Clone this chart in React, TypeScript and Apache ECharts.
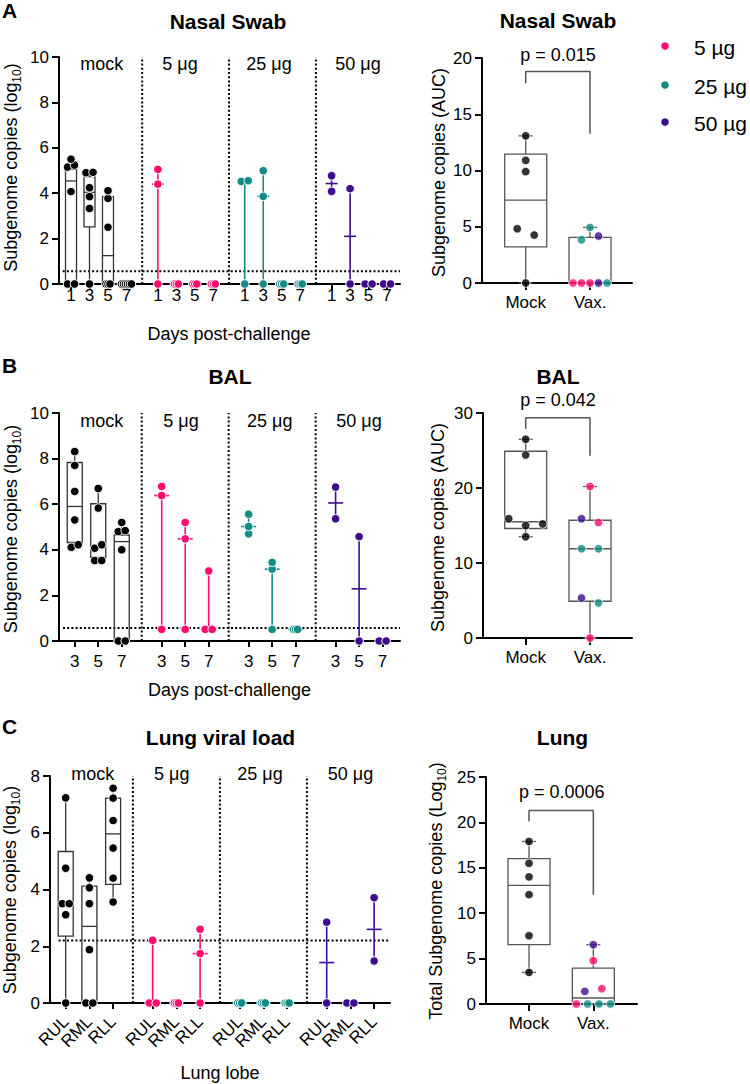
import React, { useEffect, useRef } from "react";
import * as echarts from "echarts";

// ---------------- data ----------------
const groupLabels = ["mock", "5 μg", "25 μg", "50 μg"];
const legendLabels = ["5 µg", "25 µg", "50 µg"];

// Nasal swab (log10) per group -> per day -> animals
const nasalDays = ["1", "3", "5", "7"];
const nasalMock = [[0, 0, 4.07, 5.15, 5.24, 5.5], [0, 3.33, 3.85, 4.24, 4.9, 4.92], [0, 0, 0, 2.5, 3.77, 4.11], [0, 0, 0, 0, 0, 0]];
const nasal5 = [[0, 4.4, 5.05], [0, 0, 0], [0, 0, 0], [0, 0, 0]];
const nasal25 = [[0, 4.52, 4.55], [0, 3.86, 4.99], [0, 0, 0], [0, 0, 0]];
const nasal50 = [[4.08, 4.77], [0, 4.2], [0, 0], [0, 0]];
// [min, q1, median, q3, max]
const nasalMockBox = [[0, 0, 4.54, 5.05, 5.5], [0, 2.52, 4.04, 4.73, 4.92], [0, 0, 1.25, 3.85, 4.11], [0, 0, 0, 0, 0]];
const nasalLod = 0.56;

// BAL (log10)
const balDays = ["3", "5", "7"];
const balMock = [[4.11, 4.22, 5.31, 6.56, 7.7, 8.31], [3.53, 3.53, 4.07, 4.22, 5.83, 6.69], [0, 0, 4.0, 4.8, 4.84, 5.2]];
const bal5 = [[0.51, 6.38, 6.78], [0.51, 4.48, 5.2], [0.51, 0.51, 3.07]];
const bal25 = [[4.7, 5.02, 5.56], [0.51, 3.15, 3.45], [0.51, 0.51, 0.51]];
const bal50 = [[5.36, 6.75], [0, 4.58], [0, 0]];
const balMockBox = [[4.11, 4.32, 5.9, 7.83, 8.31], [3.53, 3.67, 4.15, 6.02, 6.69], [0, 0, 4.36, 4.65, 5.2]];
const balLod = 0.57;

// Lung (log10)
const lungLobes = ["RUL", "RML", "RLL"];
const lungMock = [[0, 3.11, 3.5, 3.5, 4.75, 7.23], [0, 0, 1.88, 3.5, 4.06, 4.41], [3.56, 4.4, 5.46, 6.43, 7.22, 7.57]];
const lung5 = [[0, 0, 2.21], [0, 0, 0], [0, 1.74, 2.6]];
const lung25 = [[0, 0, 0], [0, 0, 0], [0, 0, 0]];
const lung50 = [[0, 2.85], [0, 0], [1.48, 3.71]];
const lungMockBox = [[0, 2.36, 3.5, 5.34, 7.23], [0, 0, 2.7, 4.12, 4.41], [3.56, 4.18, 5.96, 7.22, 7.57]];
const lungLod = 2.2;

// AUC panels (dose index: 1 = 5 µg, 2 = 25 µg, 3 = 50 µg)
const aucCategories = ["Mock", "Vax."];
const nasalAucMock = [13.08, 10.9, 9.9, 4.82, 4.26, 0];
const nasalAucVax = [0, 0, 0, 0, 0, 3.84, 4.17, 4.94];
const nasalAucVaxDose = [1, 1, 1, 3, 2, 2, 3, 2];
const nasalAucMockBox = [0, 3.22, 7.37, 11.45, 13.08];
const nasalAucVaxBox = [0, 0, 0, 4.05, 4.94];
const nasalBracket = [17.76, 18.8, 13.26];
const nasalP = "p = 0.015";

const balAucMock = [26.5, 24.4, 15.9, 15.0, 15.2, 13.5];
const balAucVax = [20.2, 15.9, 15.4, 11.9, 11.9, 5.33, 4.67, 0];
const balAucVaxDose = [1, 3, 1, 2, 2, 3, 2, 1];
const balAucMockBox = [13.5, 14.6, 15.5, 24.9, 26.5];
const balAucVaxBox = [0, 4.9, 11.9, 15.7, 20.2];
const balBracket = [27.87, 29.37, 24.3];
const balP = "p = 0.042";

const lungAucMock = [17.9, 15.5, 14.0, 12.04, 7.52, 3.48];
const lungAucVax = [6.53, 4.77, 1.39, 1.68, 0, 0, 0, 0];
const lungAucVaxDose = [3, 1, 3, 1, 1, 2, 2, 2];
const lungAucMockBox = [3.48, 6.53, 13.06, 16.0, 17.9];
const lungAucVaxBox = [0, 0, 0.66, 3.96, 6.53];
const lungBracket = [20.11, 21.32, 12.04];
const lungP = "p = 0.0006";

// ---------------- styles ----------------
const FONT = "'Liberation Sans', Arial, Helvetica, sans-serif";
const COLORS = ["#000000", "#FF0D6E", "#128C85", "#3D0C8E"];
const BOXCOL = "#333333";
const AUCBOX = "#555555";

type Grid = { left: number; top: number; width: number; height: number };
const gA: Grid = { left: 59, top: 57, width: 341, height: 227 };
const gAr: Grid = { left: 482, top: 58, width: 150, height: 225 };
const gB: Grid = { left: 59, top: 413, width: 341, height: 228 };
const gBr: Grid = { left: 483, top: 413, width: 149, height: 225 };
const gC: Grid = { left: 50, top: 776, width: 340, height: 227 };
const gCr: Grid = { left: 486, top: 777, width: 151, height: 227 };

function median(a: number[]) {
  const s = [...a].sort((x, y) => x - y);
  const m = s.length / 2;
  return s.length % 2 ? s[Math.floor(m)] : (s[m - 1] + s[m]) / 2;
}

function swarm(vals: number[], pxY: number, thr: number, spacing: (n: number) => number) {
  const n = vals.length;
  const off = new Array(n).fill(0);
  if (!n) return off;
  const idx = vals.map((_, i) => i).sort((a, b) => vals[a] - vals[b] || a - b);
  const clusters: number[][] = [];
  let cur = [idx[0]];
  for (let k = 1; k < n; k++) {
    if ((vals[idx[k]] - vals[idx[k - 1]]) * pxY < thr) cur.push(idx[k]);
    else { clusters.push(cur); cur = [idx[k]]; }
  }
  clusters.push(cur);
  for (const c of clusters) {
    c.sort((a, b) => a - b);
    const sp = spacing(c.length);
    c.forEach((id, j) => { off[id] = (j - (c.length - 1) / 2) * sp; });
  }
  return off;
}

function boxRenderer(halfW: number, capHalf: number, color: string, lw: number) {
  return (_p: any, api: any) => {
    const x = api.value(0);
    const [cx, yMin] = api.coord([x, api.value(1)]);
    const yQ1 = api.coord([x, api.value(2)])[1];
    const yMed = api.coord([x, api.value(3)])[1];
    const yQ3 = api.coord([x, api.value(4)])[1];
    const yMax = api.coord([x, api.value(5)])[1];
    const st = { stroke: color, lineWidth: lw, fill: "none" };
    const ln = (x1: number, y1: number, x2: number, y2: number) => ({ type: "line", shape: { x1, y1, x2, y2 }, style: st });
    const ch: any[] = [
      { type: "rect", shape: { x: cx - halfW, y: yQ3, width: 2 * halfW, height: Math.max(0, yQ1 - yQ3) }, style: st },
      ln(cx - halfW, yMed, cx + halfW, yMed),
    ];
    if (yMax < yQ3 - 0.5) {
      ch.push(ln(cx, yQ3, cx, yMax));
      if (capHalf > 0) ch.push(ln(cx - capHalf, yMax, cx + capHalf, yMax));
    }
    if (yMin > yQ1 + 0.5) {
      ch.push(ln(cx, yQ1, cx, yMin));
      if (capHalf > 0) ch.push(ln(cx - capHalf, yMin, cx + capHalf, yMin));
    }
    return { type: "group", children: ch };
  };
}

function rangeRenderer(halfW: number, color: string, lw: number) {
  return (_p: any, api: any) => {
    const x = api.value(0);
    const [cx, yMin] = api.coord([x, api.value(1)]);
    const yMed = api.coord([x, api.value(2)])[1];
    const yMax = api.coord([x, api.value(3)])[1];
    const st = { stroke: color, lineWidth: lw };
    return {
      type: "group",
      children: [
        { type: "line", shape: { x1: cx, y1: yMin, x2: cx, y2: yMax }, style: st },
        { type: "line", shape: { x1: cx - halfW, y1: yMed, x2: cx + halfW, y2: yMed }, style: st },
      ],
    };
  };
}

function dotted(gi: number, data: number[][]) {
  return {
    type: "line", xAxisIndex: gi, yAxisIndex: gi, data, symbol: "none", silent: true, z: 1, clip: false,
    lineStyle: { color: "#000", width: 2, type: [2, 2.2] },
  };
}

function yAxisCfg(gi: number, ymax: number, yint: number) {
  return {
    type: "value", gridIndex: gi, position: "left", min: 0, max: ymax, interval: yint,
    axisLine: { show: true, onZero: false, lineStyle: { color: "#000", width: 2 } },
    axisTick: { show: true, length: 7, lineStyle: { color: "#000", width: 2 } },
    axisLabel: { fontSize: 17, color: "#000", fontFamily: FONT, margin: 10, showMinLabel: true, showMaxLabel: true, hideOverlap: false },
    splitLine: { show: false },
  };
}

type LeftCfg = {
  gi: number; grid: Grid; groups: number[][][]; mockBox: number[][]; labels: string[];
  G: number; min: number; max: number; ymax: number; yint: number; lod: number; lodFrom: number;
  labelMargin: number; rotate: number; boxHalf: number; medHalf: number;
};

function leftPanel(c: LeftCfg) {
  const n = c.labels.length;
  const pos = (g: number, i: number) => g * c.G + i;
  const pxX = c.grid.width / (c.max - c.min);
  const pxY = c.grid.height / c.ymax;
  const tickPos: number[] = [];
  for (let g = 0; g < 4; g++) for (let i = 0; i < n; i++) tickPos.push(pos(g, i));
  const labelAxis = (i: number, main: boolean) => {
    const vals = [0, 1, 2, 3].map((g) => pos(g, i));
    return {
      type: "value", gridIndex: c.gi, position: "bottom", offset: 0, min: c.min, max: c.max,
      axisLine: { show: main, onZero: false, lineStyle: { color: "#000", width: 2 } },
      splitLine: { show: false },
      axisTick: { show: main, customValues: tickPos, length: 6, lineStyle: { color: "#000", width: 2 } },
      axisLabel: {
        show: true, customValues: vals, formatter: () => c.labels[i],
        fontSize: 17, color: "#000", fontFamily: FONT, margin: c.labelMargin, rotate: c.rotate,
        showMinLabel: true, showMaxLabel: true, hideOverlap: false,
      },
    };
  };
  // one axis per label row so that neighbouring (rotated) labels are never dropped
  const xAxis = labelAxis(0, true);
  const extraX = c.labels.slice(1).map((_, k) => labelAxis(k + 1, false));
  const yAxis = yAxisCfg(c.gi, c.ymax, c.yint);
  const series: any[] = [];
  for (let g = 0; g < 3; g++) {
    const s = pos(g, n - 1) + (c.G - (n - 1)) / 2;
    series.push(dotted(c.gi, [[s, 0], [s, c.ymax]]));
  }
  series.push(dotted(c.gi, [[c.lodFrom, c.lod], [c.max, c.lod]]));
  series.push({
    type: "custom", xAxisIndex: c.gi, yAxisIndex: c.gi, z: 2, clip: false, silent: true,
    renderItem: boxRenderer(c.boxHalf, 4, BOXCOL, 1.3),
    encode: { x: 0, y: 1 },
    data: c.mockBox.map((b, i) => [pos(0, i), ...b]),
  });
  for (let g = 1; g < 4; g++) {
    series.push({
      type: "custom", xAxisIndex: c.gi, yAxisIndex: c.gi, z: 2, clip: false, silent: true,
      renderItem: rangeRenderer(c.medHalf, COLORS[g], 1.6),
      encode: { x: 0, y: 1 },
      data: c.groups[g].map((vals, i) => [pos(g, i), Math.min(...vals), median(vals), Math.max(...vals)]),
    });
  }
  for (let g = 0; g < 4; g++) {
    const data: number[][] = [];
    c.groups[g].forEach((vals, i) => {
      const off = swarm(vals, pxY, 4, (k) => (k === 2 ? 7 : 2));
      vals.forEach((v, k) => data.push([pos(g, i) + off[k] / pxX, v]));
    });
    series.push({
      type: "scatter", xAxisIndex: c.gi, yAxisIndex: c.gi, z: 4, clip: false, silent: true,
      symbolSize: 8.5, itemStyle: { color: COLORS[g], borderColor: "#fff", borderWidth: 1, opacity: 1 },
      data,
    });
  }
  return { xAxis, yAxis, series, extraX };
}

type AucCfg = {
  gi: number; grid: Grid; min: number; max: number; ymax: number; yint: number;
  mock: number[]; vax: number[]; vaxDose: number[]; mockBox: number[]; vaxBox: number[]; bracket: number[];
};

function aucPanel(c: AucCfg) {
  const pxX = c.grid.width / (c.max - c.min);
  const pxY = c.grid.height / c.ymax;
  const xAxis = {
    type: "value", gridIndex: c.gi, position: "bottom", min: c.min, max: c.max,
    axisLine: { show: true, onZero: false, lineStyle: { color: "#000", width: 2 } },
    splitLine: { show: false },
    axisTick: { show: true, customValues: [1, 2], length: 7, lineStyle: { color: "#000", width: 2 } },
    axisLabel: {
      show: true, customValues: [1, 2], formatter: (v: number) => aucCategories[Math.round(v) - 1] ?? "",
      fontSize: 17, color: "#000", fontFamily: FONT, margin: 11, showMinLabel: true, showMaxLabel: true, hideOverlap: false,
    },
  };
  const yAxis = yAxisCfg(c.gi, c.ymax, c.yint);
  const sp = (k: number) => Math.min(17, 34 / Math.max(1, k - 1));
  const series: any[] = [];
  series.push({
    type: "custom", xAxisIndex: c.gi, yAxisIndex: c.gi, z: 2, clip: false, silent: true,
    renderItem: boxRenderer(21, 7, AUCBOX, 1.3), encode: { x: 0, y: 1 },
    data: [[1, ...c.mockBox], [2, ...c.vaxBox]],
  });
  series.push({
    type: "line", xAxisIndex: c.gi, yAxisIndex: c.gi, z: 2, clip: false, silent: true, symbol: "none",
    lineStyle: { color: AUCBOX, width: 1.5 },
    data: [[1, c.bracket[0]], [1, c.bracket[1]], [2, c.bracket[1]], [2, c.bracket[2]]],
  });
  const mOff = swarm(c.mock, pxY, 7, sp);
  series.push({
    type: "scatter", xAxisIndex: c.gi, yAxisIndex: c.gi, z: 4, clip: false, silent: true,
    symbolSize: 8.5, itemStyle: { color: COLORS[0], borderColor: "#fff", borderWidth: 1 },
    data: c.mock.map((v, i) => [1 + mOff[i] / pxX, v]),
  });
  const vOff = swarm(c.vax, pxY, 7, sp);
  for (let d = 1; d < 4; d++) {
    const data: number[][] = [];
    c.vax.forEach((v, i) => { if (c.vaxDose[i] === d) data.push([2 + vOff[i] / pxX, v]); });
    series.push({
      type: "scatter", xAxisIndex: c.gi, yAxisIndex: c.gi, z: 4, clip: false, silent: true,
      symbolSize: 8.5, itemStyle: { color: COLORS[d], borderColor: "#fff", borderWidth: 1 },
      data,
    });
  }
  return { xAxis, yAxis, series, extraX: [] as any[] };
}

function txt(x: number, y: number, text: string, size: number, extra: any = {}) {
  return {
    type: "text", x, y, silent: true,
    style: { text, fontSize: size, fontFamily: FONT, fill: "#000", align: "center", verticalAlign: "middle", ...extra },
  };
}
function boldTxt(x: number, y: number, text: string, size: number, extra: any = {}) {
  return txt(x, y, text, size, { fontWeight: "bold", ...extra });
}
function yName(x: number, y: number, before: string, sub: string, after: string) {
  const text = sub ? `{n|${before}}{s|${sub}}{n|${after}}` : `{n|${before}}`;
  return {
    type: "text", x, y, rotation: Math.PI / 2, silent: true,
    style: {
      text, align: "center", verticalAlign: "middle", fill: "#000",
      rich: {
        n: { fontSize: 18, fontFamily: FONT, fill: "#000", lineHeight: 24, verticalAlign: "middle" },
        s: { fontSize: 12, fontFamily: FONT, fill: "#000", lineHeight: 13, verticalAlign: "bottom" },
      },
    },
  };
}

function buildOption() {
  const A = leftPanel({
    gi: 0, grid: gA, groups: [nasalMock, nasal5, nasal25, nasal50], mockBox: nasalMockBox, labels: nasalDays,
    G: 4.7, min: -0.65, max: 17.8, ymax: 10, yint: 2, lod: nasalLod, lodFrom: -0.45,
    labelMargin: 3, rotate: 0, boxHalf: 5.5, medHalf: 6,
  });
  const Ar = aucPanel({
    gi: 1, grid: gAr, min: 0.32, max: 2.653, ymax: 20, yint: 5,
    mock: nasalAucMock, vax: nasalAucVax, vaxDose: nasalAucVaxDose, mockBox: nasalAucMockBox, vaxBox: nasalAucVaxBox, bracket: nasalBracket,
  });
  const B = leftPanel({
    gi: 2, grid: gB, groups: [balMock, bal5, bal25, bal50], mockBox: balMockBox, labels: balDays,
    G: 3.7, min: -0.67, max: 13.84, ymax: 10, yint: 2, lod: balLod, lodFrom: -0.5,
    labelMargin: 12, rotate: 0, boxHalf: 7.5, medHalf: 7.5,
  });
  const Br = aucPanel({
    gi: 3, grid: gBr, min: 0.336, max: 2.653, ymax: 30, yint: 10,
    mock: balAucMock, vax: balAucVax, vaxDose: balAucVaxDose, mockBox: balAucMockBox, vaxBox: balAucVaxBox, bracket: balBracket,
  });
  const C = leftPanel({
    gi: 4, grid: gC, groups: [lungMock, lung5, lung25, lung50], mockBox: lungMockBox, labels: lungLobes,
    G: 3.67, min: -0.662, max: 13.68, ymax: 8, yint: 2, lod: lungLod, lodFrom: -0.3,
    labelMargin: 16, rotate: 45, boxHalf: 7.5, medHalf: 7.5,
  });
  const Cr = aucPanel({
    gi: 5, grid: gCr, min: 0.331, max: 2.679, ymax: 25, yint: 5,
    mock: lungAucMock, vax: lungAucVax, vaxDose: lungAucVaxDose, mockBox: lungAucMockBox, vaxBox: lungAucVaxBox, bracket: lungBracket,
  });
  const panels = [A, Ar, B, Br, C, Cr];
  const grids = [gA, gAr, gB, gBr, gC, gCr].map((g) => ({ ...g, containLabel: false }));

  const graphics: any[] = [
    boldTxt(2, 10, "A", 21, { align: "left" }),
    boldTxt(228, 21, "Nasal Swab", 21),
    boldTxt(558, 20, "Nasal Swab", 21),
    txt(558, 55, nasalP, 18),
    txt(101.7, 64, groupLabels[0], 18), txt(180, 64, groupLabels[1], 18), txt(269, 64, groupLabels[2], 18), txt(358, 64, groupLabels[3], 18),
    txt(229, 334, "Days post-challenge", 18),
    yName(11, 167.5, "Subgenome copies (log", "10", ")"),
    yName(438.5, 172.5, "Subgenome copies (AUC)", "", ""),

    boldTxt(2, 365, "B", 21, { align: "left" }),
    boldTxt(230, 376, "BAL", 21),
    boldTxt(558, 376, "BAL", 21),
    txt(558, 400, balP, 18),
    txt(101.7, 421, groupLabels[0], 18), txt(181, 421, groupLabels[1], 18), txt(269.7, 421, groupLabels[2], 18), txt(359, 421, groupLabels[3], 18),
    txt(229.5, 690, "Days post-challenge", 18),
    yName(11, 529, "Subgenome copies (log", "10", ")"),
    yName(437.5, 527.5, "Subgenome copies (AUC)", "", ""),

    boldTxt(2, 726, "C", 21, { align: "left" }),
    boldTxt(220.5, 737, "Lung viral load", 21),
    boldTxt(562.5, 737, "Lung", 21),
    txt(561.7, 792, lungP, 18),
    txt(92.7, 774, groupLabels[0], 18), txt(171.7, 774, groupLabels[1], 18), txt(260, 774, groupLabels[2], 18), txt(350.5, 774, groupLabels[3], 18),
    txt(220, 1073, "Lung lobe", 18),
    yName(10, 890, "Subgenome copies (log", "10", ")"),
    yName(436, 891, "Total Subgenome copies (Log", "10", ")"),
  ];
  const legY = [46, 85, 122];
  legendLabels.forEach((l, i) => {
    graphics.push({ type: "circle", silent: true, shape: { cx: 665, cy: legY[i], r: 3.8 }, style: { fill: COLORS[i + 1] } });
    graphics.push(txt(694, legY[i] + 1, l, 21, { align: "left" }));
  });

  return {
    animation: false,
    backgroundColor: "#ffffff",
    textStyle: { fontFamily: FONT },
    grid: grids,
    xAxis: [...panels.map((p) => p.xAxis), ...panels.flatMap((p) => p.extraX)],
    yAxis: panels.map((p) => p.yAxis),
    series: panels.flatMap((p) => p.series),
    graphic: graphics,
  };
}

export default function App() {
  const ref = useRef<HTMLDivElement>(null);
  useEffect(() => {
    if (!ref.current) return;
    const chart = echarts.init(ref.current, undefined, { renderer: "svg" });
    chart.setOption(buildOption() as any);
    return () => chart.dispose();
  }, []);
  return <div ref={ref} style={{ position: "absolute", left: 0, top: 0, width: 750, height: 1084, background: "#fff" }} />;
}
